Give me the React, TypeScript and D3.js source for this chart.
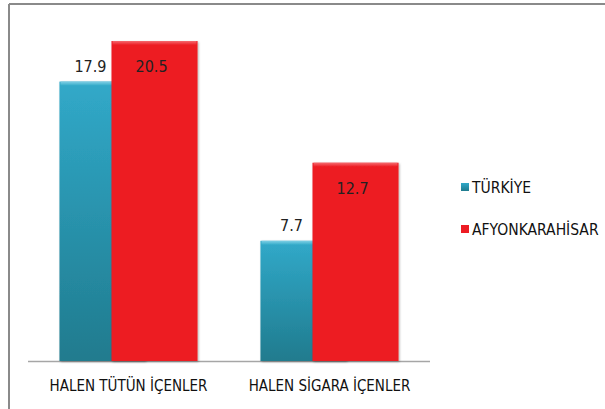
import React from 'react';
import * as d3 from 'd3';

const categories = ['HALEN TÜTÜN İÇENLER', 'HALEN SİGARA İÇENLER'];
const seriesNames = ['TÜRKİYE', 'AFYONKARAHİSAR'];
const turkiye = [17.9, 7.7];
const afyon = [20.5, 12.7];

const W = 605;
const H = 409;
const font = "'DejaVu Sans Condensed', sans-serif";

const App = () => {
  const x = d3.scaleBand().domain(categories).range([28, 430]).paddingInner(0).paddingOuter(0);
  const y = d3.scaleLinear().domain([0, 20.5]).range([361, 41]);
  const band = x.bandwidth();
  const barW = band * 0.428;
  const overlap = barW * 0.395;
  const groupW = barW * 2 - overlap;

  return (
    <svg width={W} height={H} style={{position: 'absolute', left: 0, top: 0}}>
      <defs>
        <linearGradient id="teal" x1="0" y1="0" x2="0" y2="1">
          <stop offset="0" stopColor="#31a9c9" />
          <stop offset="1" stopColor="#207b8e" />
        </linearGradient>
        <linearGradient id="tealTop" x1="0" y1="0" x2="0" y2="1">
          <stop offset="0" stopColor="#7fcfe5" />
          <stop offset="1" stopColor="#36acca" />
        </linearGradient>
        <linearGradient id="redTop" x1="0" y1="0" x2="0" y2="1">
          <stop offset="0" stopColor="#f56a6f" />
          <stop offset="1" stopColor="#ed1c24" />
        </linearGradient>
        <filter id="shadow" x="-10%" y="-10%" width="120%" height="120%">
          <feDropShadow dx="1" dy="1" stdDeviation="1.2" floodColor="#000" floodOpacity="0.3" />
        </filter>
      </defs>
      <rect x={0} y={0} width={W} height={H} fill="#fff" />
      <line x1={9} x2={W} y1={4} y2={4} stroke="#8a8a8a" strokeWidth={2} />
      <line x1={9} x2={9} y1={4} y2={H} stroke="#8a8a8a" strokeWidth={2} />

      <line x1={28} x2={430} y1={y(0) + 0.5} y2={y(0) + 0.5} stroke="#a6a6a6" strokeWidth={1.3} />

      {categories.map((c, i) => {
        const gx = (x(c) as number) + (band - groupW) / 2;
        const rx = gx + barW - overlap;
        const tTop = y(turkiye[i]);
        const rTop = y(afyon[i]);
        return (
          <g key={c}>
            <g filter="url(#shadow)">
              <rect x={gx} y={tTop} width={barW} height={y(0) - tTop} fill="url(#teal)" />
              <rect x={gx + 1} y={tTop} width={barW - 2} height={4} fill="url(#tealTop)" />
            </g>
            <g filter="url(#shadow)">
              <rect x={rx} y={rTop} width={barW} height={y(0) - rTop} fill="#ed1c24" />
              <rect x={rx + 1} y={rTop} width={barW - 2} height={4} fill="url(#redTop)" />
            </g>
            <text x={gx + (barW - overlap) / 2 + 5} y={tTop - 10} textAnchor="middle"
              fontFamily={font} fontSize={16} fill="#222">{turkiye[i].toFixed(1)}</text>
            <text x={rx + barW / 2 - 3} y={rTop + 31} textAnchor="middle"
              fontFamily={font} fontSize={16} fill="#222">{afyon[i].toFixed(1)}</text>
            <text x={(x(c) as number) + band / 2} y={391} textAnchor="middle"
              fontFamily={font} fontSize={15} fill="#111">{c}</text>
          </g>
        );
      })}

      {seriesNames.map((s, i) => (
        <g key={s} transform={`translate(461, ${183 + i * 42})`}>
          <rect x={0} y={0} width={8} height={8} fill={i === 0 ? 'url(#teal)' : '#ed1c24'} />
          <text x={11} y={9.5} fontFamily={font} fontSize={15.5} fill="#111">{s}</text>
        </g>
      ))}
    </svg>
  );
};

export default App;
